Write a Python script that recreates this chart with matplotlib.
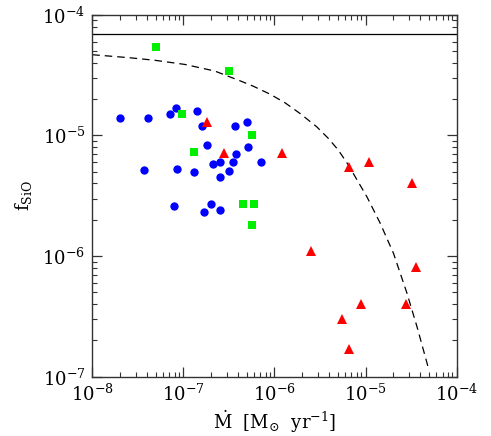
import numpy as np
import matplotlib
matplotlib.use('Agg')
import matplotlib.pyplot as plt
from matplotlib.ticker import LogLocator, NullFormatter

plt.rcParams['font.family'] = ['DejaVu Serif']
plt.rcParams['mathtext.fontset'] = 'dejavuserif'

# --- data ---
# blue circles
blue_mdot = [2.0e-8, 4.1e-8, 7.1e-8, 8.3e-8, 1.4e-7, 1.6e-7, 3.7e-7, 5.0e-7,
             1.8e-7, 5.1e-7, 3.8e-7, 7.1e-7, 3.7e-8, 8.5e-8, 1.3e-7, 2.1e-7,
             2.5e-7, 3.5e-7, 3.2e-7, 2.5e-7, 7.8e-8, 2.0e-7, 1.7e-7, 2.5e-7]
blue_f = [1.4e-5, 1.4e-5, 1.5e-5, 1.7e-5, 1.6e-5, 1.2e-5, 1.2e-5, 1.3e-5,
          8.3e-6, 8.0e-6, 7.0e-6, 6.0e-6, 5.2e-6, 5.3e-6, 5.0e-6, 5.8e-6,
          6.0e-6, 6.0e-6, 5.1e-6, 4.5e-6, 2.6e-6, 2.7e-6, 2.3e-6, 2.4e-6]

# green squares
green_mdot = [5.0e-8, 3.2e-7, 9.7e-8, 5.7e-7, 1.3e-7, 4.5e-7, 6.0e-7, 5.6e-7]
green_f = [5.4e-5, 3.4e-5, 1.5e-5, 1.0e-5, 7.3e-6, 2.7e-6, 2.7e-6, 1.8e-6]

# red triangles
red_mdot = [1.8e-7, 2.8e-7, 1.2e-6, 6.6e-6, 1.1e-5, 3.2e-5, 2.5e-6,
            3.6e-5, 9.0e-6, 2.8e-5, 5.5e-6, 6.5e-6]
red_f = [1.29e-5, 7.1e-6, 7.1e-6, 5.5e-6, 6.0e-6, 4.0e-6, 1.1e-6,
         8.1e-7, 4.0e-7, 4.0e-7, 3.0e-7, 1.7e-7]

# dashed model curve
curve_mdot = [1.0e-8, 2.47e-8, 4.85e-8, 1.035e-7, 2.21e-7, 4.18e-7, 5.85e-7,
              8.93e-7, 1.30e-6, 1.91e-6, 2.91e-6, 3.90e-6, 5.02e-6, 6.47e-6,
              1.035e-5, 1.45e-5, 2.03e-5, 2.85e-5, 3.67e-5, 4.85e-5]
curve_f = [4.67e-5, 4.42e-5, 4.20e-5, 3.88e-5, 3.42e-5, 2.84e-5, 2.56e-5,
           2.20e-5, 1.87e-5, 1.52e-5, 1.18e-5, 9.46e-6, 7.57e-6, 5.69e-6,
           3.10e-6, 1.87e-6, 1.05e-6, 4.92e-7, 2.60e-7, 1.21e-7]

f_limit = 7.0e-5

fig = plt.figure(figsize=(4.91, 4.36), dpi=100)
ax = fig.add_axes([0.188, 0.136, 0.742, 0.830])

ax.axhline(f_limit, color='black', lw=0.9)
ax.plot(curve_mdot, curve_f, color='black', lw=0.9, dashes=(6, 4))

ax.plot(blue_mdot, blue_f, 'o', color='#0000ff', markersize=6.0,
        markeredgewidth=0, zorder=3)
ax.plot(green_mdot, green_f, 's', color='#00ee00', markersize=5.4,
        markeredgewidth=0, zorder=3)
ax.plot(red_mdot, red_f, '^', color='#ff0000', markersize=6.8,
        markeredgewidth=0, zorder=3)

ax.set_xscale('log')
ax.set_yscale('log')
ax.set_xlim(1e-8, 1e-4)
ax.set_ylim(1e-7, 1e-4)

for a in (ax.xaxis, ax.yaxis):
    a.set_major_locator(LogLocator(base=10, numticks=10))
    a.set_minor_locator(LogLocator(base=10, subs=np.arange(2, 10), numticks=10))
    a.set_minor_formatter(NullFormatter())

ax.tick_params(which='both', direction='in', top=True, right=True,
               color='#333333', labelsize=13)
ax.tick_params(which='major', length=7, width=0.9, pad=5)
ax.tick_params(which='minor', length=3.8, width=0.8)
for s in ax.spines.values():
    s.set_color('#333333')
    s.set_linewidth(1.0)

ax.set_xlabel(r'$\dot{\rm M}\ \ [{\rm M}_{\odot}\ \ {\rm yr}^{-1}]$', fontsize=13, labelpad=3)
ax.set_ylabel(r'${\rm f}_{\rm SiO}$', fontsize=13, labelpad=6)

fig.savefig('out.png', dpi=100)
